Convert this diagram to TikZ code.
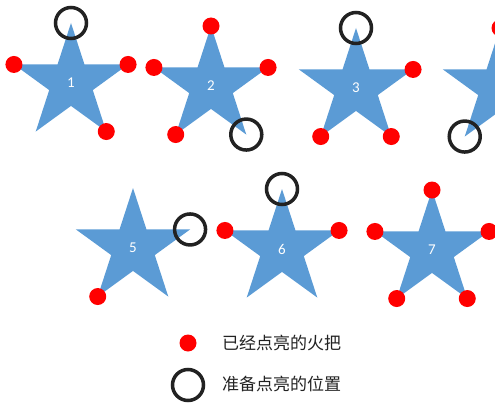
\documentclass[tikz,border=0pt]{standalone}
\usepackage{fontspec}
\setmainfont{Carlito}
\newfontfamily\cjk{Noto Sans CJK SC}
\usetikzlibrary{shapes.geometric}
\definecolor{starblue}{HTML}{5B9BD5}
\definecolor{torchred}{HTML}{FF0000}
\definecolor{ringgray}{HTML}{222222}
\begin{document}
\begin{tikzpicture}
		[x=1pt,y=-1pt,%
		  fivestar/.style={star,star points=5,star point ratio=2.618,minimum size=120pt,
		    inner sep=0pt,outer sep=0pt,fill=starblue,text=white,font=\fontsize{15}{15}\selectfont},
		  lit/.style={circle,fill=torchred,minimum size=17pt,inner sep=0pt},
		  spot/.style={circle,draw=ringgray,line width=3.5pt,minimum size=31pt,inner sep=0pt},
		  note/.style={anchor=west,inner sep=0pt,text=ringgray,font=\cjk\fontsize{17}{17}\selectfont}]
		\useasboundingbox (0,0) rectangle (495,404);
		\clip (0,0) rectangle (495,404);
		\node[fivestar] (s1) at (71,83) {1};
		\node[fivestar] (s2) at (211,86) {2};
		\node[fivestar] (s3) at (356,88) {3};
		\node[fivestar] (s4) at (500,88) {};
		\node[fivestar] (s5) at (133,248) {5};
		\node[fivestar] (s6) at (282,249) {6};
		\node[fivestar] (s7) at (432,250) {7};
		\node[spot] (s1-top) at (s1.outer point 1) {};
		\node[lit] (s1-left) at (s1.outer point 2) {};
		\node[lit] (s1-right) at (s1.outer point 5) {};
		\node[lit] (s1-br) at (s1.outer point 4) {};
		\node[lit] (s2-top) at (s2.outer point 1) {};
		\node[lit] (s2-left) at (s2.outer point 2) {};
		\node[lit] (s2-bl) at (s2.outer point 3) {};
		\node[lit] (s2-right) at (s2.outer point 5) {};
		\node[spot] (s2-br) at (s2.outer point 4) {};
		\node[spot] (s3-top) at (s3.outer point 1) {};
		\node[lit] (s3-right) at (s3.outer point 5) {};
		\node[lit] (s3-bl) at (s3.outer point 3) {};
		\node[lit] (s3-br) at (s3.outer point 4) {};
		\node[lit] (s4-top) at (s4.outer point 1) {};
		\node[spot] (s4-bl) at (s4.outer point 3) {};
		\node[spot] (s5-right) at (s5.outer point 5) {};
		\node[lit] (s5-bl) at (s5.outer point 3) {};
		\node[spot] (s6-top) at (s6.outer point 1) {};
		\node[lit] (s6-left) at (s6.outer point 2) {};
		\node[lit] (s6-right) at (s6.outer point 5) {};
		\node[lit] (s7-top) at (s7.outer point 1) {};
		\node[lit] (s7-left) at (s7.outer point 2) {};
		\node[lit] (s7-bl) at (s7.outer point 3) {};
		\node[lit] (s7-br) at (s7.outer point 4) {};
		\node[lit] (s7-right) at (s7.outer point 5) {};
		\node[lit] (key-lit) at (188,343) {};
		\node[note] (key-lit-text) at (222,343) {已经点亮的火把};
		\node[spot] (key-spot) at (188,385) {};
		\node[note] (key-spot-text) at (222,384) {准备点亮的位置};
	\end{tikzpicture}
\end{document}
